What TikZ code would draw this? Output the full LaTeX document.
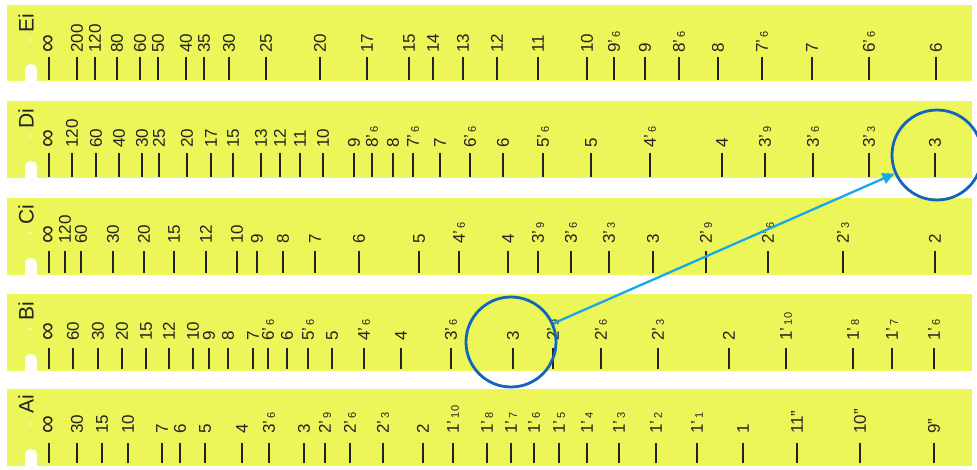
\documentclass[tikz,border=0pt]{standalone}
\usepackage{fontspec}
\setmainfont{Liberation Sans}
\usetikzlibrary{arrows.meta}
\definecolor{stripY}{RGB}{236,246,88}
\definecolor{inkc}{RGB}{35,35,35}
\definecolor{circblue}{RGB}{18,100,188}
\definecolor{arrblue}{RGB}{22,168,235}
\newcommand{\myft}[2]{#1'\kern2.5pt{\fontsize{11}{11}\selectfont #2}}
\newcommand{\myinf}{{\fontsize{25}{25}\selectfont ∞}}
\begin{document}
\begin{tikzpicture}[x=1pt,y=-1pt,
  lbl/.style={rotate=90,anchor=west,inner sep=0pt,font=\fontsize{17}{17}\selectfont,text=inkc},
  stripname/.style={rotate=90,inner sep=0pt,font=\fontsize{21}{21}\selectfont,text=inkc},
  tickmark/.style={draw=inkc,line width=1.1pt},
  strip/.style={fill=stripY,draw=none},
  ring/.style={circle,draw=circblue,line width=2.8pt,minimum size=90pt,inner sep=0pt},
  link/.style={draw=arrblue,line width=2.3pt,-{Triangle[length=12pt,width=11pt]}}]
\useasboundingbox (0,0) rectangle (977,469);
\fill[white] (0,0) rectangle (977,469);
% strips
\foreach \nm/\tp/\bt/\ny in {Ei/5/81/23, Di/101/178/119, Ci/198/275/215, Bi/294/371/311, Ai/389/466/404}{
  \fill[strip] (7,\tp) rectangle (972,\bt);
  \fill[white,rounded corners=5.5pt] (25,\bt+2) -- (25,\bt-17) -- (37,\bt-17) -- (37,\bt+2);
  \fill[white!55!stripY] (30,\tp+35) circle (1.6);
  \node[stripname] (\nm) at (26,\ny) {\nm};
}
% Ei scale
\foreach \x/\t [count=\i] in {49/\myinf, 77/200, 95/120, 117/80, 140/60, 158/50, 186/40, 204/35, 229/30, 266/25, 320/20, 367/17, 409/15, 433/14, 463/13, 497/12, 538/11, 587/10, 614/{\myft{9}{6}}, 645/9, 679/{\myft{8}{6}}, 718/8, 762/{\myft{7}{6}}, 812/7, 869/{\myft{6}{6}}, 936/6}{
  \draw[tickmark] (\x,57) -- (\x,80);
  \node[lbl] (E\i) at (\x,53) {\t};
}
% Di scale
\foreach \x/\t [count=\i] in {49/\myinf, 72/120, 96/60, 119/40, 142/30, 159/25, 187/20, 211/17, 233/15, 261/13, 280/12, 300/11, 323/10, 354/9, 372/{\myft{8}{6}}, 393/8, 413/{\myft{7}{6}}, 440/7, 470/{\myft{6}{6}}, 503/6, 543/{\myft{5}{6}}, 591/5, 650/{\myft{4}{6}}, 722/4, 765/{\myft{3}{9}}, 813/{\myft{3}{6}}, 869/{\myft{3}{3}}, 935/3}{
  \draw[tickmark] (\x,153) -- (\x,177);
  \node[lbl] (D\i) at (\x,148) {\t};
}
% Ci scale
\foreach \x/\t [count=\i] in {49/\myinf, 65/120, 81/60, 113/30, 144/20, 174/15, 206/12, 237/10, 257/9, 283/8, 315/7, 359/6, 419/5, 459/{\myft{4}{6}}, 508/4, 538/{\myft{3}{9}}, 571/{\myft{3}{6}}, 609/{\myft{3}{3}}, 653/3, 706/{\myft{2}{9}}, 768/{\myft{2}{6}}, 843/{\myft{2}{3}}, 935/2}{
  \draw[tickmark] (\x,251) -- (\x,273);
  \node[lbl] (C\i) at (\x,244) {\t};
}
% Bi scale
\foreach \x/\t [count=\i] in {49/\myinf, 73/60, 98/30, 122/20, 146/15, 169/12, 193/10, 209/9, 228/8, 253/7, 268/{\myft{6}{6}}, 287/6, 308/{\myft{5}{6}}, 332/5, 364/{\myft{4}{6}}, 401/4, 451/{\myft{3}{6}}, 513/3, 553/{\myft{2}{9}}, 601/{\myft{2}{6}}, 658/{\myft{2}{3}}, 729/2, 786/{\myft{1}{10}}, 853/{\myft{1}{8}}, 892/{\myft{1}{7}}, 934/{\myft{1}{6}}}{
  \draw[tickmark] (\x,348) -- (\x,369);
  \node[lbl] (B\i) at (\x,341) {\t};
}
% Ai scale
\foreach \x/\t [count=\i] in {49/\myinf, 77/30, 102/15, 128/10, 162/7, 180/6, 205/5, 242/4, 269/{\myft{3}{6}}, 304/3, 325/{\myft{2}{9}}, 350/{\myft{2}{6}}, 383/{\myft{2}{3}}, 423/2, 453/{\myft{1}{10}}, 487/{\myft{1}{8}}, 511/{\myft{1}{7}}, 534/{\myft{1}{6}}, 559/{\myft{1}{5}}, 587/{\myft{1}{4}}, 619/{\myft{1}{3}}, 656/{\myft{1}{2}}, 697/{\myft{1}{1}}, 743/1, 797/{11"}, 860/{10"}, 934/{9"}}{
  \draw[tickmark] (\x,443) -- (\x,463);
  \node[lbl] (A\i) at (\x,434) {\t};
}
% highlight circles and arrow
\node[ring] (cB) at (511,342) {};
\node[ring] (cD) at (937,155) {};
\draw[link] (cB) -- (cD);
\end{tikzpicture}
\end{document}
